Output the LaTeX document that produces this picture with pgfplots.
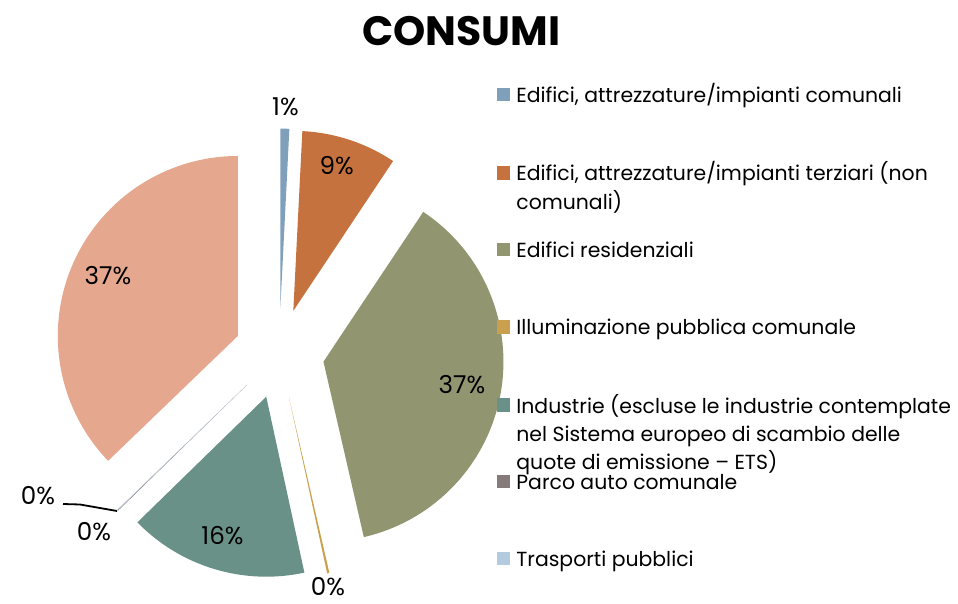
\documentclass[border=0pt]{standalone}
\usepackage{fontspec}
\setmainfont{Poppins}
\usepackage{pgfplots}
\pgfplotsset{compat=1.18}

\definecolor{cComunali}{HTML}{7F9FBA}
\definecolor{cTerziari}{HTML}{C6723E}
\definecolor{cResid}{HTML}{929670}
\definecolor{cIllum}{HTML}{C9A04E}
\definecolor{cIndustrie}{HTML}{6A9188}
\definecolor{cParco}{HTML}{857B7B}
\definecolor{cTrasporti}{HTML}{B4CADF}
\definecolor{cAltro}{HTML}{E5A88F}

\newcommand\lbl{\fontsize{12.3}{14}\selectfont}
\newcommand\leg{\fontsize{10.2}{14}\selectfont}

% pie geometry, in pixel units of the axis
\def\pcx{279.2}\def\pcy{353.6}\def\prad{180}\def\pexp{45}
\gdef\pcum{0}

% value, colour, label x, label y
\newcommand\pieslice[4]{%
  \pgfmathsetmacro\angA{90-3.6*\pcum}%
  \pgfmathsetmacro\angB{90-3.6*(\pcum+#1)}%
  \pgfmathsetmacro\angM{(\angA+\angB)/2}%
  \pgfmathsetmacro\tipx{\pcx+\pexp*cos(\angM)}%
  \pgfmathsetmacro\tipy{\pcy-\pexp*sin(\angM)}%
  \pgfmathtruncatemacro\pct{round(#1)}%
  \edef\doslice{%
    \noexpand\addplot[draw=none, fill=#2, domain=\angB:\angA, samples=90]
      ({\tipx+\prad*cos(x)}, {\tipy-\prad*sin(x)}) -- (axis cs:\tipx,\tipy) -- cycle;
    \noexpand\node[font=\noexpand\lbl] at (axis cs:#3,#4) {\pct\noexpand\%};
  }%
  \doslice
  \pgfmathsetmacro\tmp{\pcum+#1}%
  \xdef\pcum{\tmp}%
}

% legend: y centre, colour, text
\newcommand\legitem[3]{%
  \node[fill=#2, minimum size=6.65pt, inner sep=0pt] at (axis cs:503.8,#1) {};
  \node[font=\leg, anchor=base west, inner sep=0pt, yshift=-4pt] at (axis cs:516,#1) {#3};
}
\newcommand\legline[3]{% y centre, line number, text
  \node[font=\leg, anchor=base west, inner sep=0pt, yshift={-4pt-#2*14.15pt}] at (axis cs:516,#1) {#3};
}

\begin{document}
\begin{tikzpicture}
\begin{axis}[
    width=479pt, height=302pt, scale only axis,
    xmin=0, xmax=958, ymin=0, ymax=604, y dir=reverse,
    hide axis, clip=false,
]
\pieslice{0.8}{cComunali}{285.4}{106.5}
\pieslice{8.55}{cTerziari}{336.7}{166}
\pieslice{37.05}{cResid}{462}{385}
\pieslice{0.2}{cIllum}{328}{587}
\pieslice{16.1}{cIndustrie}{222.5}{536}
\pieslice{0.05}{cParco}{94}{531.5}
\pieslice{0.05}{cTrasporti}{38}{496}
\pieslice{37.2}{cAltro}{108}{276}

\draw[black, line width=0.9pt] (axis cs:63,504) -- (axis cs:80,504.5) -- (axis cs:117,511);

\node[font=\fontsize{20.5}{26}\selectfont\bfseries] at (axis cs:461.5,31) {CONSUMI};

\legitem{94.7}{cComunali}{Edifici, attrezzature/impianti comunali}
\legitem{173}{cTerziari}{Edifici, attrezzature/impianti terziari (non}
\legline{173}{1}{comunali)}
\legitem{249.3}{cResid}{Edifici residenziali}
\legitem{327}{cIllum}{Illuminazione pubblica comunale}
\legitem{405}{cIndustrie}{Industrie (escluse le industrie contemplate}
\legline{405}{1}{nel Sistema europeo di scambio delle}
\legline{405}{2}{quote di emissione – ETS)}
\legitem{481.7}{cParco}{Parco auto comunale}
\legitem{558.5}{cTrasporti}{Trasporti pubblici}
\end{axis}
\pgfresetboundingbox
\path (0,0) rectangle (479pt,302pt);
\end{tikzpicture}
\end{document}
